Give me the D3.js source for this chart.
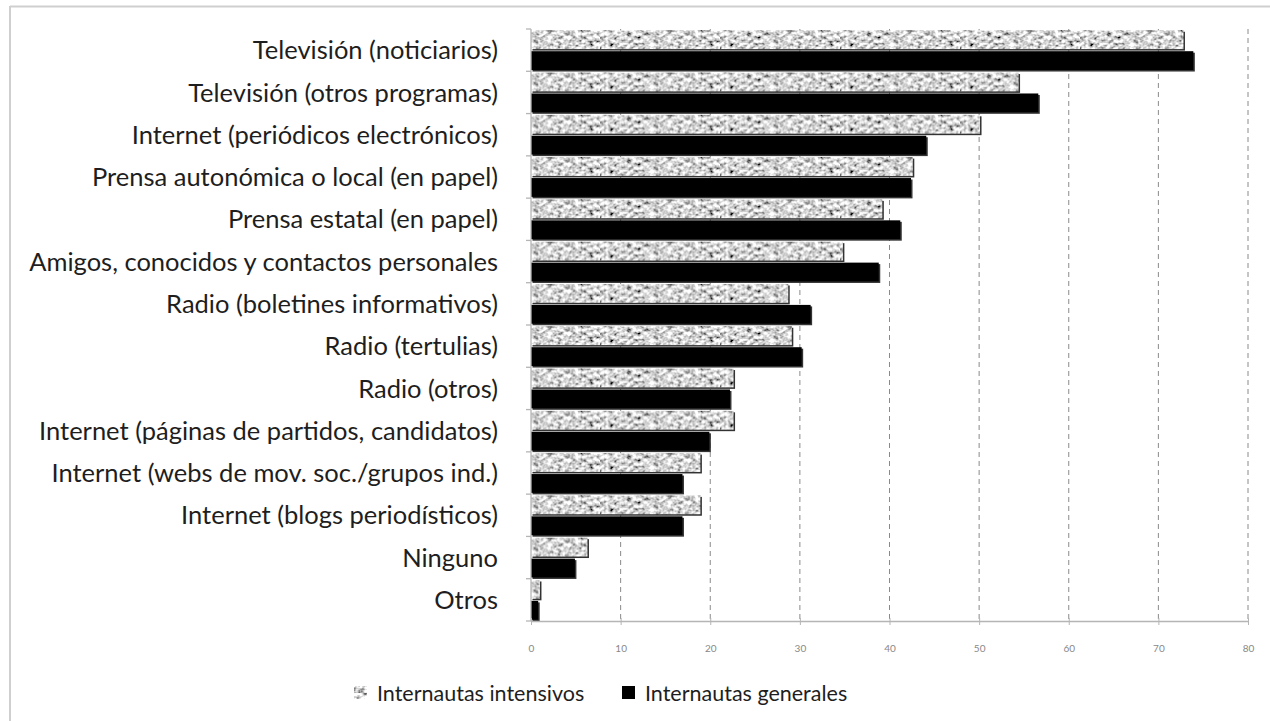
<!DOCTYPE html>
<html>
<head>
<meta charset="utf-8">
<script src="https://cdn.jsdelivr.net/npm/d3@7"></script>
<style>
  html, body { margin: 0; padding: 0; background: #fff; }
  svg { display: block; font-family: Lato, "Open Sans", sans-serif; }
</style>
</head>
<body>
<div id="chart"></div>
<script>
/* ── Data ─────────────────────────────────────────────────────────────── */
const categories = [
  'Televisión (noticiarios)',
  'Televisión (otros programas)',
  'Internet (periódicos electrónicos)',
  'Prensa autonómica o local (en papel)',
  'Prensa estatal (en papel)',
  'Amigos, conocidos y contactos personales',
  'Radio (boletines informativos)',
  'Radio (tertulias)',
  'Radio (otros)',
  'Internet (páginas de partidos, candidatos)',
  'Internet (webs de mov. soc./grupos ind.)',
  'Internet (blogs periodísticos)',
  'Ninguno',
  'Otros'
];
const seriesNames = ['Internautas intensivos', 'Internautas generales'];
const intensivos = [72.8, 54.4, 50.1, 42.6, 39.2, 34.8, 28.7, 29.1, 22.6, 22.6, 18.9, 18.9, 6.3, 1.0];
const generales  = [73.9, 56.6, 44.1, 42.4, 41.2, 38.8, 31.2, 30.2, 22.2, 19.9, 16.9, 16.9, 4.9, 0.8];
const xTicks = [0, 10, 20, 30, 40, 50, 60, 70, 80];

/* ── Layout ───────────────────────────────────────────────────────────── */
const W = 1270, H = 721;
const plot = { left: 531, right: 1248, top: 29, bottom: 621 };

const svg = d3.select('#chart').append('svg')
  .attr('width', W).attr('height', H);

// grainy grey texture used by the "intensivos" bars
const defs = svg.append('defs');
const filt = defs.append('filter').attr('id', 'grain')
  .attr('filterUnits', 'userSpaceOnUse')
  .attr('x', 0).attr('y', 0).attr('width', 120).attr('height', 40);
filt.append('feTurbulence')
  .attr('type', 'fractalNoise').attr('baseFrequency', '0.22 0.28')
  .attr('numOctaves', 2).attr('seed', 11);
filt.append('feColorMatrix').attr('type', 'matrix')
  .attr('values', '2.1 0 0 0 -0.38  2.1 0 0 0 -0.38  2.1 0 0 0 -0.38  0 0 0 0 1');
const pat = defs.append('pattern').attr('id', 'tex')
  .attr('patternUnits', 'userSpaceOnUse')
  .attr('width', 120).attr('height', 40);
pat.append('rect').attr('width', 120).attr('height', 40)
  .attr('fill', '#fff').attr('filter', 'url(#grain)');

// outer frame (top + left edge only visible)
svg.append('line').attr('x1', 10).attr('x2', W).attr('y1', 6.5).attr('y2', 6.5)
  .attr('stroke', '#cfcfcf').attr('stroke-width', 2);
svg.append('line').attr('x1', 10).attr('x2', 10).attr('y1', 6).attr('y2', H)
  .attr('stroke', '#cfcfcf').attr('stroke-width', 2);

/* ── Scales ───────────────────────────────────────────────────────────── */
const x = d3.scaleLinear().domain([0, 80]).range([plot.left, plot.right]);
const y = d3.scaleBand().domain(categories).range([plot.top, plot.bottom]);
const ySub = d3.scaleBand().domain(seriesNames).range([0, y.bandwidth()])
  .paddingInner(0.1).paddingOuter(0.06);

/* ── Grid ─────────────────────────────────────────────────────────────── */
svg.append('g').selectAll('line')
  .data(xTicks.filter(t => t > 0))
  .join('line')
    .attr('x1', d => x(d)).attr('x2', d => x(d))
    .attr('y1', plot.top).attr('y2', plot.bottom)
    .attr('stroke', '#8a8a8a').attr('stroke-width', 1)
    .attr('stroke-dasharray', '5,4');

/* ── Bars ─────────────────────────────────────────────────────────────── */
const rows = categories.map((c, i) => ({ cat: c, vals: [intensivos[i], generales[i]] }));
const fills = ['url(#tex)', '#000'];

const groups = svg.append('g').selectAll('g')
  .data(rows).join('g')
    .attr('transform', d => `translate(0,${y(d.cat)})`);

// shadow
groups.selectAll('rect.shadow')
  .data(d => d.vals.map((v, k) => ({ v, k })))
  .join('rect').attr('class', 'shadow')
    .attr('x', x(0) + 1.5)
    .attr('y', d => ySub(seriesNames[d.k]) + 1.5)
    .attr('width', d => x(d.v) - x(0))
    .attr('height', ySub.bandwidth())
    .attr('fill', '#333');

groups.selectAll('rect.bar')
  .data(d => d.vals.map((v, k) => ({ v, k })))
  .join('rect').attr('class', 'bar')
    .attr('x', x(0))
    .attr('y', d => ySub(seriesNames[d.k]))
    .attr('width', d => x(d.v) - x(0))
    .attr('height', ySub.bandwidth())
    .attr('fill', d => fills[d.k]);

/* ── Axes ─────────────────────────────────────────────────────────────── */
const axisCol = '#b5b5b5';
// bottom
const xAxis = svg.append('g')
  .attr('transform', `translate(0,${plot.bottom})`)
  .call(d3.axisBottom(x).tickValues(xTicks).tickSize(4).tickSizeOuter(0).tickPadding(20));
xAxis.select('.domain').attr('stroke', axisCol).attr('stroke-width', 1.3);
xAxis.selectAll('.tick line').attr('stroke', axisCol).attr('y1', -3);
xAxis.selectAll('text').attr('fill', '#888').style('font-size', '10px')
  .style('font-family', 'Lato, sans-serif');

// left
svg.append('line')
  .attr('x1', plot.left).attr('x2', plot.left)
  .attr('y1', plot.top).attr('y2', plot.bottom)
  .attr('stroke', axisCol).attr('stroke-width', 1.3);
const bounds = categories.map(c => y(c)).concat([plot.bottom]);
svg.append('g').selectAll('line')
  .data(bounds).join('line')
    .attr('x1', plot.left - 5).attr('x2', plot.left)
    .attr('y1', d => d).attr('y2', d => d)
    .attr('stroke', axisCol).attr('stroke-width', 1.3);

svg.append('g').selectAll('text')
  .data(categories).join('text')
    .attr('x', 498)
    .attr('y', d => y(d) + y.bandwidth() / 2)
    .attr('dy', '0.36em')
    .attr('text-anchor', 'end')
    .attr('fill', '#1e1e1e')
    .style('font-size', '25.5px')
    .text(d => d);

/* ── Legend ───────────────────────────────────────────────────────────── */
const legend = svg.append('g').attr('transform', 'translate(0,693)');
const legendX = [354, 622];
seriesNames.forEach((name, k) => {
  legend.append('rect')
    .attr('x', legendX[k]).attr('y', -7)
    .attr('width', 13).attr('height', 13)
    .attr('fill', fills[k]);
  legend.append('text')
    .attr('x', legendX[k] + 23).attr('y', 0).attr('dy', '0.36em')
    .attr('fill', '#1e1e1e')
    .style('font-size', '21.5px')
    .text(name);
});
</script>
</body>
</html>
